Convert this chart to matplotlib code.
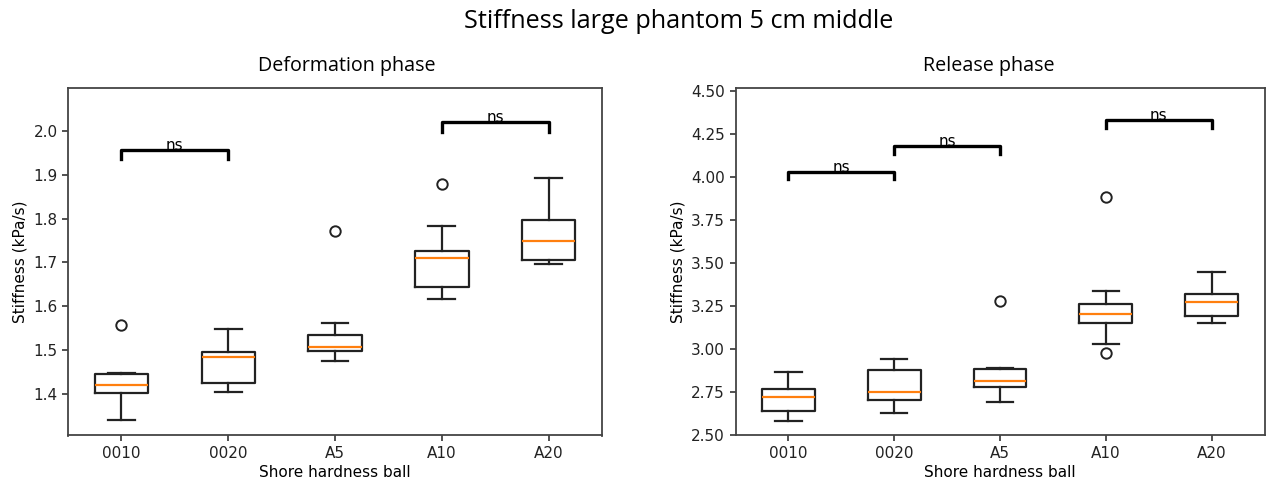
import matplotlib
matplotlib.use("Agg")
import matplotlib.pyplot as plt

categories = ["0010", "0020", "A5", "A10", "A20"]

# Deformation phase box statistics
def_low = [1.340, 1.405, 1.474, 1.617, 1.697]
def_q1 = [1.402, 1.425, 1.498, 1.644, 1.706]
def_med = [1.420, 1.483, 1.507, 1.711, 1.748]
def_q3 = [1.445, 1.495, 1.535, 1.726, 1.796]
def_high = [1.448, 1.547, 1.562, 1.782, 1.892]
def_fliers = [[1.557], [], [1.772], [1.879], []]
def_pairs = [(0, 1, 1.957), (3, 4, 2.020)]

# Release phase box statistics
rel_low = [2.580, 2.625, 2.690, 3.030, 3.150]
rel_q1 = [2.640, 2.700, 2.780, 3.150, 3.190]
rel_med = [2.720, 2.750, 2.810, 3.200, 3.270]
rel_q3 = [2.765, 2.875, 2.880, 3.260, 3.320]
rel_high = [2.865, 2.940, 2.890, 3.335, 3.445]
rel_fliers = [[], [], [3.275], [3.880, 2.975], []]
rel_pairs = [(0, 1, 4.030), (1, 2, 4.180), (3, 4, 4.330)]


def make_stats(low, q1, med, q3, high, fliers):
    return [dict(label=c, whislo=a, q1=b, med=m, q3=d, whishi=e, fliers=f)
            for c, a, b, m, d, e, f in zip(categories, low, q1, med, q3, high, fliers)]


W, H = 1267, 486
fig = plt.figure(figsize=(W / 100, H / 100), dpi=100)
ax1 = fig.add_axes([68 / W, 1 - 435.5 / H, 534 / W, 347.5 / H])
ax2 = fig.add_axes([735.5 / W, 1 - 435.5 / H, 529 / W, 347.5 / H])

panels = [
    (ax1, make_stats(def_low, def_q1, def_med, def_q3, def_high, def_fliers), def_pairs,
     (1.305, 2.098), [1.4, 1.5, 1.6, 1.7, 1.8, 1.9, 2.0], "{:.1f}", 0.022),
    (ax2, make_stats(rel_low, rel_q1, rel_med, rel_q3, rel_high, rel_fliers), rel_pairs,
     (2.495, 4.517), [2.5, 2.75, 3.0, 3.25, 3.5, 3.75, 4.0, 4.25, 4.5], "{:.2f}", 0.045),
]

lw = 1.6
title_font = ["Open Sans", "DejaVu Sans"]

for ax, stats, pairs, ylim, yticks, fmt, tip in panels:
    ax.bxp(stats, positions=range(1, len(categories) + 1), widths=0.5,
           boxprops=dict(color="#222222", lw=lw),
           whiskerprops=dict(color="#222222", lw=lw),
           capprops=dict(color="#222222", lw=lw),
           medianprops=dict(color="#ff7f0e", lw=lw),
           flierprops=dict(marker="o", markerfacecolor="none", markeredgecolor="#222222",
                           markersize=7.5, markeredgewidth=1.4))
    for i, j, y in pairs:
        x1, x2 = i + 1, j + 1
        ax.plot([x1, x1, x2, x2], [y - tip, y, y, y - tip], color="black", lw=2.4)
        ax.text((x1 + x2) / 2, y, "ns", ha="center", va="baseline", fontsize=11)
    for s in ax.spines.values():
        s.set_linewidth(1.3)
        s.set_color("#444444")
    ax.tick_params(width=1.2, length=4, colors="#333333", labelcolor="#222222")
    ax.set_ylim(*ylim)
    ax.set_yticks(yticks)
    ax.set_yticklabels([fmt.format(v) for v in yticks], fontsize=11)
    ax.set_xticks(range(1, len(categories) + 1))
    ax.set_xticklabels(categories, fontsize=11)
    ax.set_xlabel("Shore hardness ball", fontsize=11, labelpad=3)
    ax.set_ylabel("Stiffness (kPa/s)", fontsize=11)

fig.text(346.5 / W, 1 - 66 / H, "Deformation phase", ha="center", va="center",
         fontsize=14.2, family=title_font)
fig.text(989 / W, 1 - 66 / H, "Release phase", ha="center", va="center",
         fontsize=14.2, family=title_font)
fig.text(679 / W, 1 - 22 / H, "Stiffness large phantom 5 cm middle", ha="center", va="center",
         fontsize=18.2, family=title_font)
fig.savefig("out.png", dpi=100)
